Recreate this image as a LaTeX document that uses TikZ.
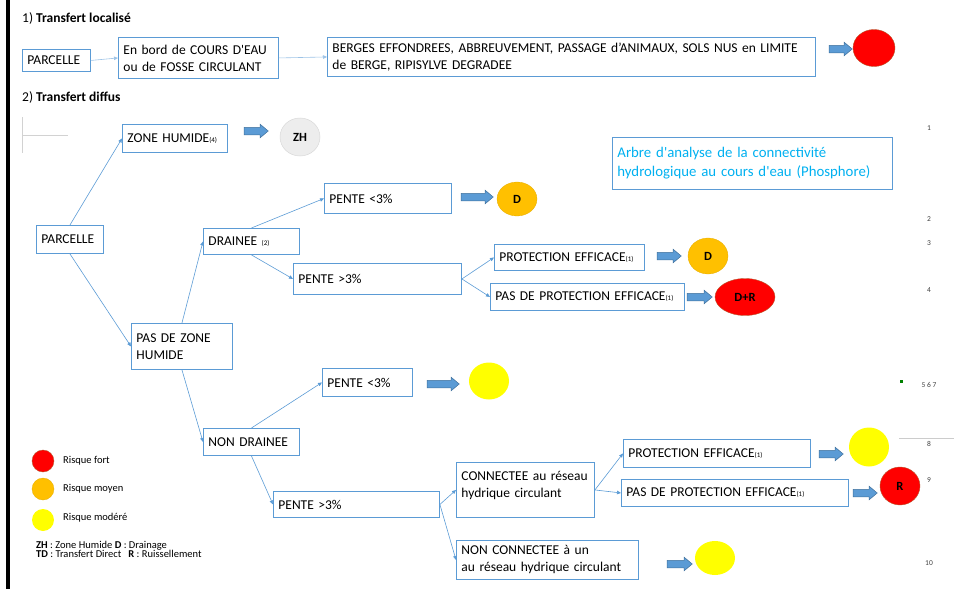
\documentclass[tikz,border=0pt]{standalone}
\usepackage{fontspec}
\setmainfont{Carlito}
\usetikzlibrary{arrows.meta,shapes.geometric,shapes.arrows}
\definecolor{boxblue}{HTML}{5B9BD5}
\definecolor{linkblue}{HTML}{5B9BD5}
\definecolor{arrowedge}{HTML}{41719C}
\definecolor{titleblue}{HTML}{00B0F0}
\definecolor{riskhigh}{HTML}{FF0000}
\definecolor{riskhighedge}{HTML}{B85A30}
\definecolor{riskmid}{HTML}{FFC000}
\definecolor{risklow}{HTML}{FFFF00}
\definecolor{zhgray}{HTML}{EDEDED}
\definecolor{numgray}{HTML}{404040}
\newcommand{\smallref}[1]{{\fontsize{7}{8}\selectfont #1}}
\tikzset{
  box/.style={draw=boxblue, line width=0.9pt, anchor=north west, align=left,
    inner xsep=5pt, inner ysep=0pt, font={\fontsize{13.5}{17}\selectfont}},
  link/.style={draw=linkblue, line width=0.6pt, -{Triangle[length=4pt,width=3.5pt]}},
  bigarrow/.style={single arrow, draw=arrowedge, fill=boxblue, line width=0.5pt,
    inner xsep=0pt, inner ysep=3.5pt, single arrow head extend=3pt,
    single arrow tip angle=80, minimum width=1pt},
  risk/.style={ellipse, inner sep=0pt, font={\fontsize{12.5}{13}\selectfont\bfseries}},
  high/.style={risk, fill=riskhigh, draw=riskhighedge, line width=0.4pt},
  mid/.style={risk, fill=riskmid, draw=riskmid!90!black, line width=0.3pt},
  low/.style={risk, fill=risklow},
  num/.style={font={\fontsize{7.5}{8}\selectfont}, text=numgray, inner sep=0pt},
  legend/.style={anchor=west, inner sep=0pt, font={\fontsize{10.5}{11}\selectfont}}
}
\begin{document}
\begin{tikzpicture}[x=1pt,y=-1pt]
  \useasboundingbox (0,0) rectangle (954,589);
  \draw[line width=3.5pt] (8,0) -- (8,589);

  % 1) transfert localise
  \node[anchor=west, inner sep=0pt, font={\fontsize{13.5}{17}\selectfont}] (titre1) at (22,18) {1) \textbf{Transfert localisé}};
  \node[box, text width=58pt, minimum height=22pt] (parc1) at (22,49) {PARCELLE};
  \node[box, text width=150pt, minimum height=41pt] (bord) at (118,37) {En bord de COURS D\textquotesingle EAU\\ou de FOSSE CIRCULANT};
  \node[box, text width=478pt, minimum height=39pt] (berges) at (327,37) {BERGES EFFONDREES, ABBREUVEMENT, PASSAGE d’ANIMAUX, SOLS NUS en LIMITE\\de BERGE, RIPISYLVE DEGRADEE};
  \draw[link, draw=boxblue!60] (parc1.east) -- (bord.west);
  \draw[link, draw=boxblue!60] (bord.east) -- (berges.west);
  \node[bigarrow, minimum height=23pt] (fl0) at (838.5,49) {};
  \node[high, minimum width=42pt, minimum height=37pt] (rouge0) at (874,48) {};

  % 2) transfert diffus
  \node[anchor=west, inner sep=0pt, font={\fontsize{13.5}{17}\selectfont}] (titre2) at (22,97) {2) \textbf{Transfert diffus}};
  \draw[gray!35, line width=0.8pt] (22,117) -- (22,153);
  \draw[gray!35, line width=0.8pt] (22,135) -- (68,135);

  \node[box, text width=57pt, minimum height=28pt] (parc2) at (36,225) {PARCELLE};
  \node[box, text width=95pt, minimum height=28pt] (zhbox) at (122,124) {ZONE HUMIDE\smallref{(4)}};
  \node[bigarrow, minimum height=24pt] (fl1) at (254,131) {};
  \node[risk, fill=zhgray, draw=gray!30, line width=0.5pt, minimum width=40pt, minimum height=38pt] (zh) at (300,137) {ZH};
  \draw[link] (parc2.north) -- (zhbox.west);

  \node[box, text width=91pt, minimum height=46pt] (pas) at (131,323) {PAS DE ZONE\\HUMIDE};
  \draw[link] (parc2.south) -- (pas.west);

  % for drainee
  \node[box, text width=86pt, minimum height=26pt] (drainee) at (203,228) {DRAINEE \smallref{(2)}};
  \draw[link] (pas.north) -- (drainee.west);

  \node[box, text width=117pt, minimum height=30pt] (pente1) at (324,183) {PENTE <3\%};
  \draw[link] (drainee.north) -- (pente1.west);
  \node[bigarrow, minimum height=32pt] (fl2) at (475,197) {};
  \node[mid, minimum width=40pt, minimum height=34pt] (d1) at (517,199) {D};

  \node[box, text width=158pt, minimum height=31pt] (pente2) at (293,263) {PENTE >3\%};
  \draw[link] (drainee.south) -- (pente2.west);

  \node[box, text width=140pt, minimum height=26pt] (prot1) at (494,244) {PROTECTION EFFICACE\smallref{(1)}};
  \node[box, text width=184pt, minimum height=27pt] (pasprot1) at (490,283) {PAS DE PROTECTION EFFICACE\smallref{(1)}};
  \draw[link] (pente2.east) -- (prot1.west);
  \draw[link] (pente2.east) -- (pasprot1.west);
  \node[bigarrow, minimum height=24pt] (fl3) at (667,256) {};
  \node[mid, minimum width=40pt, minimum height=36pt] (d2) at (708,256) {D};
  \node[bigarrow, minimum height=25pt] (fl4) at (697.5,297) {};
  \node[high, minimum width=60pt, minimum height=37pt] (dr) at (745,297) {D+R};

  % for non drainee
  \node[box, text width=86pt, minimum height=27pt] (nondr) at (203,428) {NON DRAINEE};
  \draw[link] (pas.south) -- (nondr.west);

  \node[box, text width=80pt, minimum height=28pt] (pente3) at (322,368) {PENTE <3\%};
  \draw[link] (nondr.north) -- (pente3.west);
  \node[bigarrow, minimum height=32pt] (fl5) at (441,384) {};
  \node[low, minimum width=40pt, minimum height=37pt] (j1) at (489,381) {};

  \node[box, text width=156pt, minimum height=26pt] (pente4) at (273,491) {PENTE >3\%};
  \draw[link] (nondr.south) -- (pente4.west);

  \node[box, text width=128pt, minimum height=55pt, text depth=28pt] (conn) at (456,462) {CONNECTEE au réseau\\hydrique circulant};
  \node[box, text width=172pt, minimum height=39pt] (nonconn) at (456,540) {NON CONNECTEE à un\\au réseau hydrique circulant};
  \draw[link] (pente4.east) -- (conn.west);
  \draw[link] (pente4.east) -- (nonconn.west);
  \node[bigarrow, minimum height=25pt] (fl8) at (677.5,564) {};
  \node[low, minimum width=40pt, minimum height=34pt] (j3) at (715,558) {};

  \node[box, text width=177pt, minimum height=28pt] (prot2) at (623,439) {PROTECTION EFFICACE\smallref{(1)}};
  \node[box, text width=217pt, minimum height=27pt] (pasprot2) at (621,479) {PAS DE PROTECTION EFFICACE\smallref{(1)}};
  \draw[link] (conn.east) -- (prot2.west);
  \draw[link] (conn.east) -- (pasprot2.west);
  \node[bigarrow, minimum height=24pt] (fl6) at (829,454) {};
  \node[low, minimum width=40pt, minimum height=39pt] (j2) at (869,447) {};
  \node[bigarrow, minimum height=24pt] (fl7) at (863,493) {};
  \node[high, minimum width=40pt, minimum height=38pt] (r) at (900,486) {R};

  % titre
  \node[box, text=titleblue, text width=270pt, minimum height=52pt, font={\fontsize{14.8}{19}\selectfont}] (arbre) at (612,137) {Arbre d\textquotesingle analyse de la connectivité\\hydrologique au cours d\textquotesingle eau (Phosphore)};

  % numeros
  \node[num] (n1) at (929,128) {1};
  \node[num] (n2) at (929,219) {2};
  \node[num] (n3) at (929,243) {3};
  \node[num] (n4) at (929,290) {4};
  \node[num] (n567) at (929,385) {5 6 7};
  \node[num] (n8) at (929,444) {8};
  \node[num] (n9) at (929,480) {9};
  \node[num] (n10) at (929,563) {10};
  \fill[green!50!black] (900,380) rectangle (903,383);
  \draw[gray!40, line width=0.8pt] (899,438) -- (954,438);

  % legende
  \node[high, minimum width=22pt, minimum height=22pt] (lfort) at (43,461) {};
  \node[mid, minimum width=22pt, minimum height=22pt] (lmoyen) at (43,489) {};
  \node[low, minimum width=22pt, minimum height=22pt] (lmodere) at (43,520) {};
  \node[legend] (tfort) at (63,461) {Risque fort};
  \node[legend] (tmoyen) at (63,489) {Risque moyen};
  \node[legend] (tmodere) at (63,518) {Risque modéré};
  \node[anchor=north west, inner sep=0pt, align=left, font={\fontsize{10.5}{9.5}\selectfont}] (abbrev) at (36,541)
    {\textbf{ZH} : Zone Humide \textbf{D} : Drainage\\\textbf{TD} : Transfert Direct~~~\textbf{R} : Ruissellement};
\end{tikzpicture}
\end{document}
